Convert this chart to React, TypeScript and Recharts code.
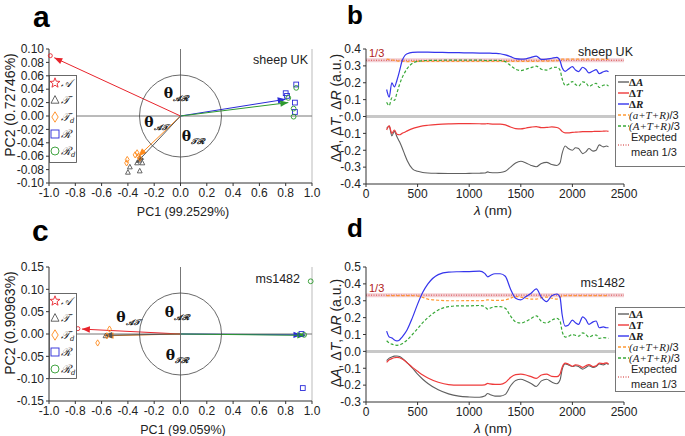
import React from 'react'
import {
  ScatterChart, Scatter, LineChart, Line, XAxis, YAxis, ReferenceLine, ReferenceDot, Legend,
} from 'recharts'

// ---------- PCA panels (a, c) ----------
const pc1Ticks = [-1, -0.8, -0.6, -0.4, -0.2, 0, 0.2, 0.4, 0.6, 0.8, 1]
const sheepPc2Ticks = [-0.1, -0.08, -0.06, -0.04, -0.02, 0, 0.02, 0.04, 0.06, 0.08, 0.1]
const msPc2Ticks = [-0.15, -0.1, -0.05, 0, 0.05, 0.1, 0.15]

const sheepPtsA = [{ x: -0.99, y: 0.09 }]
const sheepPtsT = [
  { x: -0.4, y: -0.084 }, { x: -0.385, y: -0.076 }, { x: -0.31, y: -0.082 },
  { x: -0.33, y: -0.07 }, { x: -0.29, y: -0.07 }, { x: -0.315, y: -0.066 },
]
const sheepPtsTd = [
  { x: -0.41, y: -0.07 }, { x: -0.405, y: -0.065 }, { x: -0.345, y: -0.058 },
  { x: -0.32, y: -0.06 }, { x: -0.31, y: -0.063 }, { x: -0.33, y: -0.055 },
]
const sheepPtsR = [
  { x: 0.8, y: 0.034 }, { x: 0.81, y: 0.03 }, { x: 0.87, y: 0.02 }, { x: 0.88, y: 0.047 }, { x: 0.87, y: 0.006 },
]
const sheepPtsRd = [{ x: 0.88, y: 0.042 }, { x: 0.86, y: 0.011 }, { x: 0.86, y: -0.001 }, { x: 0.82, y: 0.027 }]
const sheepArrowA = { x: -0.96, y: 0.087 }
const sheepArrowTd = { x: -0.32, y: -0.06 }
const sheepArrowT = { x: -0.335, y: -0.07 }
const sheepArrowR = { x: 0.8, y: 0.025 }
const sheepArrowRd = { x: 0.82, y: 0.02 }

const msPtsA = [{ x: -0.78, y: 0.012 }]
const msPtsT = [{ x: -0.57, y: -0.004 }]
const msPtsTd = [{ x: -0.54, y: 0.011 }, { x: -0.63, y: -0.02 }, { x: -0.56, y: -0.004 }]
const msPtsR = [{ x: 0.93, y: -0.121 }, { x: 0.92, y: 0 }]
const msPtsRd = [{ x: 0.99, y: 0.118 }, { x: 0.94, y: -0.002 }]
const msArrowA = { x: -0.75, y: 0.011 }
const msArrowTd = { x: -0.57, y: -0.004 }
const msArrowT = { x: -0.58, y: -0.003 }
const msArrowR = { x: 0.92, y: -0.002 }
const msArrowRd = { x: 0.95, y: -0.003 }

// ---------- spectra panels (b, d) ----------
const lambdaTicks = [0, 500, 1000, 1500, 2000, 2500]
const sheepDeltaTicks = [-0.4, -0.3, -0.2, -0.1, 0, 0.1, 0.2, 0.3, 0.4]
const msDeltaTicks = [-0.3, -0.2, -0.1, 0, 0.1, 0.2, 0.3, 0.4, 0.5]

const wavelengths = [
  200, 225, 250, 275, 300, 325, 350, 375, 400, 450, 500, 550, 600, 700, 800, 900, 1000, 1100, 1150, 1180,
  1200, 1250, 1300, 1350, 1400, 1450, 1500, 1550, 1600, 1650, 1700, 1750, 1800, 1850, 1880, 1900, 1930, 1960, 2000, 2030,
  2060, 2100, 2130, 2160, 2200, 2230, 2260, 2300, 2330, 2350,
]

const sheepDA = [
  -0.07, -0.056, -0.115, -0.088, -0.12, -0.15, -0.185, -0.225, -0.262, -0.31, -0.325, -0.332, -0.335, -0.337, -0.338, -0.338, -0.337, -0.336, -0.335, -0.328,
  -0.332, -0.333, -0.332, -0.325, -0.3, -0.275, -0.265, -0.275, -0.29, -0.298, -0.278, -0.272, -0.285, -0.29, -0.275, -0.22, -0.175, -0.19, -0.2, -0.185,
  -0.19, -0.22, -0.21, -0.19, -0.205, -0.2, -0.168, -0.18, -0.175, -0.18,
]
const sheepDT = [
  -0.08, -0.056, -0.1, -0.08, -0.105, -0.108, -0.1, -0.093, -0.085, -0.072, -0.063, -0.056, -0.052, -0.047, -0.044, -0.042, -0.042, -0.043, -0.044, -0.042,
  -0.044, -0.045, -0.045, -0.05, -0.062, -0.072, -0.073, -0.068, -0.063, -0.06, -0.066, -0.065, -0.062, -0.065, -0.075, -0.088, -0.097, -0.097, -0.094, -0.093,
  -0.092, -0.09, -0.09, -0.09, -0.089, -0.088, -0.088, -0.087, -0.086, -0.088,
]
const sheepDR = [
  0.16, 0.115, 0.2, 0.175, 0.215, 0.27, 0.33, 0.36, 0.372, 0.38, 0.381, 0.381, 0.381, 0.38, 0.379, 0.378, 0.377, 0.376, 0.375, 0.376,
  0.375, 0.374, 0.372, 0.365, 0.355, 0.343, 0.34, 0.342, 0.35, 0.358, 0.338, 0.34, 0.345, 0.35, 0.33, 0.29, 0.268, 0.28, 0.295, 0.275,
  0.266, 0.292, 0.28, 0.258, 0.27, 0.278, 0.254, 0.265, 0.27, 0.265,
]
const sheepMeanLower = [
  0.34, 0.338, 0.335, 0.333, 0.33, 0.328, 0.327, 0.326, 0.325, 0.326, 0.327, 0.327, 0.327, 0.327, 0.327, 0.327, 0.327, 0.327, 0.327, 0.327,
  0.327, 0.327, 0.327, 0.327, 0.327, 0.327, 0.327, 0.327, 0.327, 0.327, 0.328, 0.328, 0.329, 0.33, 0.335, 0.34, 0.34, 0.34, 0.34, 0.34,
  0.34, 0.34, 0.34, 0.34, 0.34, 0.34, 0.34, 0.339, 0.339, 0.338,
]
const sheepMeanUpper = [
  0.085, 0.065, 0.11, 0.095, 0.14, 0.19, 0.23, 0.26, 0.285, 0.315, 0.327, 0.33, 0.332, 0.333, 0.334, 0.334, 0.334, 0.334, 0.333, 0.33,
  0.333, 0.333, 0.332, 0.325, 0.302, 0.28, 0.272, 0.28, 0.29, 0.298, 0.28, 0.275, 0.288, 0.292, 0.275, 0.225, 0.185, 0.19, 0.207, 0.19,
  0.18, 0.205, 0.2, 0.178, 0.19, 0.197, 0.172, 0.185, 0.188, 0.18,
]

const msDA = [
  -0.055, -0.04, -0.033, -0.028, -0.027, -0.03, -0.04, -0.053, -0.068, -0.1, -0.135, -0.165, -0.19, -0.228, -0.252, -0.265, -0.27, -0.272, -0.265, -0.25,
  -0.255, -0.265, -0.265, -0.255, -0.205, -0.172, -0.165, -0.175, -0.19, -0.208, -0.175, -0.165, -0.182, -0.192, -0.17, -0.11, -0.075, -0.08, -0.09, -0.085,
  -0.09, -0.105, -0.095, -0.085, -0.095, -0.09, -0.075, -0.08, -0.072, -0.078,
]
const msDT = [
  -0.065, -0.05, -0.043, -0.038, -0.036, -0.038, -0.045, -0.055, -0.068, -0.095, -0.118, -0.14, -0.158, -0.183, -0.197, -0.2, -0.2, -0.2, -0.198, -0.19,
  -0.193, -0.196, -0.196, -0.185, -0.155, -0.138, -0.135, -0.14, -0.15, -0.16, -0.14, -0.135, -0.148, -0.15, -0.135, -0.095, -0.07, -0.075, -0.088, -0.08,
  -0.082, -0.095, -0.085, -0.078, -0.09, -0.085, -0.07, -0.072, -0.068, -0.075,
]
const msDR = [
  0.12, 0.085, 0.08, 0.068, 0.062, 0.068, 0.085, 0.105, 0.13, 0.2, 0.28, 0.35, 0.4, 0.455, 0.47, 0.472, 0.473, 0.475, 0.462, 0.442,
  0.448, 0.46, 0.46, 0.445, 0.37, 0.315, 0.305, 0.325, 0.345, 0.37, 0.32, 0.295, 0.33, 0.34, 0.32, 0.22, 0.15, 0.155, 0.185, 0.17,
  0.16, 0.205, 0.19, 0.16, 0.175, 0.18, 0.14, 0.145, 0.14, 0.14,
]
const msMeanLower = [
  0.33, 0.33, 0.33, 0.33, 0.33, 0.33, 0.33, 0.33, 0.33, 0.33, 0.328, 0.32, 0.31, 0.303, 0.3, 0.3, 0.301, 0.3, 0.302, 0.305,
  0.304, 0.302, 0.302, 0.305, 0.315, 0.325, 0.322, 0.315, 0.31, 0.31, 0.318, 0.322, 0.315, 0.31, 0.318, 0.33, 0.33, 0.33, 0.33, 0.33,
  0.33, 0.33, 0.33, 0.33, 0.33, 0.33, 0.33, 0.33, 0.33, 0.33,
]
const msMeanUpper = [
  0.063, 0.05, 0.043, 0.038, 0.036, 0.038, 0.045, 0.055, 0.068, 0.1, 0.135, 0.17, 0.2, 0.245, 0.265, 0.27, 0.27, 0.272, 0.265, 0.25,
  0.255, 0.265, 0.265, 0.255, 0.21, 0.175, 0.168, 0.178, 0.195, 0.21, 0.178, 0.168, 0.185, 0.195, 0.18, 0.12, 0.085, 0.088, 0.1, 0.095,
  0.09, 0.11, 0.1, 0.085, 0.095, 0.097, 0.077, 0.082, 0.08, 0.077,
]

const C = { A: '#e8242c', T: '#555555', Td: '#ff8a1c', R: '#2a2ad8', Rd: '#2e9a2e' }
const LC = { dA: '#606060', dT: '#ee3a3a', dR: '#3535ec', lo: '#ff9933', up: '#38a838', exp: '#d02828' }
const SANS = 'Liberation Sans, Arial, sans-serif'
const SERIF = 'DejaVu Serif, Liberation Serif, serif'
const NSERIF = 'Liberation Serif, serif'

type Kind = 'star' | 'triangle' | 'diamond' | 'square' | 'circle'

function Mark({ cx, cy, kind, color, s = 2.4 }: { cx?: number; cy?: number; kind: Kind; color: string; s?: number }) {
  if (cx == null || cy == null) return null
  const st = { fill: 'none', stroke: color, strokeWidth: 0.9 }
  if (kind === 'circle') return <circle cx={cx} cy={cy} r={s} {...st} />
  if (kind === 'square') return <rect x={cx - s} y={cy - s} width={2 * s} height={2 * s} {...st} />
  if (kind === 'triangle')
    return <polygon points={`${cx},${cy - s * 1.1} ${cx - s},${cy + s * 0.8} ${cx + s},${cy + s * 0.8}`} {...st} />
  if (kind === 'diamond')
    return <polygon points={`${cx},${cy - s * 1.3} ${cx + s * 0.8},${cy} ${cx},${cy + s * 1.3} ${cx - s * 0.8},${cy}`} {...st} />
  const pts: string[] = []
  for (let i = 0; i < 10; i++) {
    const r = i % 2 === 0 ? s * 1.3 : s * 0.55
    const a = -Math.PI / 2 + (i * Math.PI) / 5
    pts.push(`${cx + r * Math.cos(a)},${cy + r * Math.sin(a)}`)
  }
  return <polygon points={pts.join(' ')} {...st} />
}

const arrowShape = (color: string, head = 8) => (p: any) => {
  const { x1, y1, x2, y2 } = p
  if (x1 == null) return null
  const dx = x2 - x1
  const dy = y2 - y1
  const len = Math.hypot(dx, dy) || 1
  const ux = dx / len
  const uy = dy / len
  const bx = x2 - ux * head
  const by = y2 - uy * head
  const w = head * 0.4
  return (
    <g>
      <line x1={x1} y1={y1} x2={x2} y2={y2} stroke={color} strokeWidth={1} />
      <polygon points={`${x2},${y2} ${bx - uy * w},${by + ux * w} ${bx + uy * w},${by - ux * w}`} fill={color} />
    </g>
  )
}

function Txt({ x, y, children, size = 12, rot = false, anchor = 'center', style = {} }: any) {
  const tx = anchor === 'center' ? '-50%' : anchor === 'right' ? '-100%' : '0'
  return (
    <div
      style={{
        position: 'absolute', left: x, top: y, whiteSpace: 'nowrap', fontSize: size, lineHeight: 1,
        transform: `translate(${tx},-50%)${rot ? ' rotate(-90deg)' : ''}`, transformOrigin: rot ? '50% 50%' : undefined,
        ...style,
      }}
    >
      {children}
    </div>
  )
}

// panel letter, placed by the top of its line box
function Tag({ x, top, size, children }: any) {
  return (
    <div style={{ position: 'absolute', left: x, top, fontSize: size, lineHeight: 1.15, fontWeight: 'bold', fontFamily: SANS, color: '#000' }}>
      {children}
    </div>
  )
}

const scriptA = '\u{1D49C}'
const scriptT = '\u{1D4AF}'
const scriptR = '\u211B'

const legendItems: { kind: Kind; color: string; label: React.ReactNode }[] = [
  { kind: 'star', color: C.A, label: scriptA },
  { kind: 'triangle', color: C.T, label: scriptT },
  { kind: 'diamond', color: C.Td, label: <>{scriptT}<tspan fontSize={7} dy={1.5}>d</tspan></> },
  { kind: 'square', color: C.R, label: scriptR },
  { kind: 'circle', color: C.Rd, label: <>{scriptR}<tspan fontSize={7} dy={1.5}>d</tspan></> },
]

const pcaLegend = (h: number) => () => (
  <svg width={29} height={h} style={{ display: 'block' }}>
    <rect x={0.5} y={0.5} width={27} height={h - 1} fill="#fff" stroke="#444" strokeWidth={0.8} />
    {legendItems.map((it, i) => (
      <g key={i}>
        <Mark cx={6} cy={8 + i * 17} kind={it.kind} color={it.color} s={4} />
        <text x={12} y={12 + i * 17} fontSize={11.5} fontStyle="italic" fontFamily={SERIF} fill="#222">
          {it.label}
        </text>
      </g>
    ))}
  </svg>
)

function Theta({ x, y, sub }: { x: number; y: number; sub: string }) {
  return (
    <Txt x={x} y={y} size={14} style={{ fontFamily: SERIF, fontWeight: 'bold', color: '#111' }}>
      θ<span style={{ fontSize: 8, fontStyle: 'italic', position: 'relative', top: 3 }}>{sub}</span>
    </Txt>
  )
}

type PcaProps = {
  top: number
  yDomain: [number, number]
  yTicks: number[]
  pts: { A: any[]; T: any[]; Td: any[]; R: any[]; Rd: any[] }
  arrows: { A: any; T: any; Td: any; R: any; Rd: any }
  legendTop: number
  legendH: number
}

function PcaChart({ top, yDomain, yTicks, pts, arrows, legendTop, legendH }: PcaProps) {
  const tick = { fontSize: 12, fill: '#222', fontFamily: SANS }
  const seg = (a: any) => [{ x: 0, y: 0 }, { x: a.x, y: a.y }] as any
  return (
    <div style={{ position: 'absolute', left: 0, top, width: 340, height: 218 }}>
      <ScatterChart width={340} height={218} margin={{ top: 49, right: 28, bottom: 10, left: 0 }}>
        <XAxis
          dataKey="x" type="number" domain={[-1, 1]} ticks={pc1Ticks} tick={tick} tickSize={3}
          tickFormatter={(v: number) => v.toFixed(1)} height={25} stroke="#333" interval={0}
        />
        <YAxis
          dataKey="y" type="number" domain={yDomain} ticks={yTicks} tick={tick} tickSize={3}
          tickFormatter={(v: number) => v.toFixed(2)} width={49} stroke="#333" interval={0}
        />
        <ReferenceLine x={1} stroke="#bbb" />
        <ReferenceLine x={0} stroke="#777" />
        <ReferenceLine y={0} stroke="#777" />
        <ReferenceDot x={0} y={0} r={41} fill="none" stroke="#444" strokeWidth={0.8} />
        <ReferenceLine segment={seg(arrows.A)} shape={arrowShape(C.A)} />
        <ReferenceLine segment={seg(arrows.Td)} shape={arrowShape(C.Td)} />
        <ReferenceLine segment={seg(arrows.T)} shape={arrowShape(C.T)} />
        <ReferenceLine segment={seg(arrows.R)} shape={arrowShape(C.R)} />
        <ReferenceLine segment={seg(arrows.Rd)} shape={arrowShape(C.Rd)} />
        <Scatter name="A" data={pts.A} isAnimationActive={false} shape={(p: any) => <Mark {...p} kind="circle" color={C.A} s={2} />} />
        <Scatter name="T" data={pts.T} isAnimationActive={false} shape={(p: any) => <Mark {...p} kind="triangle" color={C.T} />} />
        <Scatter name="Td" data={pts.Td} isAnimationActive={false} shape={(p: any) => <Mark {...p} kind="diamond" color={C.Td} />} />
        <Scatter name="R" data={pts.R} isAnimationActive={false} shape={(p: any) => <Mark {...p} kind="square" color={C.R} />} />
        <Scatter name="Rd" data={pts.Rd} isAnimationActive={false} shape={(p: any) => <Mark {...p} kind="circle" color={C.Rd} />} />
        <Legend
          layout="vertical" align="center" verticalAlign="middle" content={pcaLegend(legendH)}
          wrapperStyle={{ left: 49, top: legendTop, width: 29, height: legendH }}
        />
      </ScatterChart>
    </div>
  )
}

const specLegendRows = [
  { key: 'dA', dash: undefined, label: <><tspan fontWeight="bold" fontFamily={NSERIF}>Δ</tspan><tspan fontStyle="italic" fontWeight="bold" fontFamily={NSERIF}>A</tspan></> },
  { key: 'dT', dash: undefined, label: <><tspan fontWeight="bold" fontFamily={NSERIF}>Δ</tspan><tspan fontStyle="italic" fontWeight="bold" fontFamily={NSERIF}>T</tspan></> },
  { key: 'dR', dash: undefined, label: <><tspan fontWeight="bold" fontFamily={NSERIF}>Δ</tspan><tspan fontStyle="italic" fontWeight="bold" fontFamily={NSERIF}>R</tspan></> },
  { key: 'lo', dash: '3 2', label: <><tspan fontFamily={NSERIF} fontStyle="italic">(a+T+R)</tspan>/3</> },
  { key: 'up', dash: '3 2', label: <><tspan fontFamily={NSERIF} fontStyle="italic">(A+T+R)</tspan>/3</> },
]

const specLegend = (h: number) => () => (
  <svg width={80} height={h} style={{ display: 'block' }}>
    <rect x={0.5} y={0.5} width={85} height={h - 1} fill="#fff" stroke="#555" strokeWidth={0.8} />
    {specLegendRows.map((r, i) => (
      <g key={r.key}>
        <line x1={3} x2={14} y1={7 + i * 11} y2={7 + i * 11} stroke={(LC as any)[r.key]} strokeWidth={1.4} strokeDasharray={r.dash} />
        <text x={14} y={11 + i * 11} fontSize={11} fontFamily={SANS} fill="#222">{r.label}</text>
      </g>
    ))}
    <line x1={3} x2={14} y1={70} y2={70} stroke={LC.exp} strokeWidth={1} strokeDasharray="1 1.5" />
    <text x={16} y={66} fontSize={11} fontFamily={SANS} fill="#222">Expected</text>
    <text x={16} y={81} fontSize={11} fontFamily={SANS} fill="#222">mean 1/3</text>
  </svg>
)

type SpecProps = {
  top: number
  yDomain: [number, number]
  yTicks: number[]
  dA: number[]
  dT: number[]
  dR: number[]
  lo: number[]
  up: number[]
  legendTop: number
  legendH: number
}

function SpecChart({ top, yDomain, yTicks, dA, dT, dR, lo, up, legendTop, legendH }: SpecProps) {
  const rows = wavelengths.map((w, i) => ({ w, dA: dA[i], dT: dT[i], dR: dR[i], lo: lo[i], up: up[i] }))
  const tick = { fontSize: 12, fill: '#222', fontFamily: SANS }
  return (
    <div style={{ position: 'absolute', left: 320, top, width: 365, height: 218 }}>
      <LineChart width={365} height={218} data={rows} margin={{ top: 49, right: 61, bottom: 9, left: 0 }}>
        <XAxis dataKey="w" type="number" domain={[0, 2500]} ticks={lambdaTicks} tick={tick} tickSize={3} height={25} stroke="#333" interval={0} />
        <YAxis
          type="number" domain={yDomain} ticks={yTicks} tick={tick} tickSize={3} width={46} stroke="#333" interval={0}
          tickFormatter={(v: number) => v.toFixed(1)}
        />
        <ReferenceLine y={0} stroke="#c8c8c8" strokeWidth={3} />
        <ReferenceLine
          y={1 / 3} stroke="#f3cfd3" strokeWidth={4}
          label={{ value: '1/3', position: 'insideBottomLeft', fill: '#b02020', fontSize: 11, fontFamily: SANS, offset: 3 }}
        />
        <ReferenceLine y={1 / 3} stroke={LC.exp} strokeDasharray="1 1.5" strokeWidth={0.8} />
        <Line dataKey="lo" type="monotone" stroke={LC.lo} strokeDasharray="3 2" strokeWidth={1.2} dot={false} isAnimationActive={false} />
        <Line dataKey="up" type="monotone" stroke={LC.up} strokeDasharray="3 2" strokeWidth={1.2} dot={false} isAnimationActive={false} />
        <Line dataKey="dA" type="monotone" stroke={LC.dA} strokeWidth={1.1} dot={false} isAnimationActive={false} />
        <Line dataKey="dT" type="monotone" stroke={LC.dT} strokeWidth={1.2} dot={false} isAnimationActive={false} />
        <Line dataKey="dR" type="monotone" stroke={LC.dR} strokeWidth={1.2} dot={false} isAnimationActive={false} />
        <Legend
          layout="vertical" align="center" verticalAlign="middle" content={specLegend(legendH)}
          wrapperStyle={{ left: 295, top: legendTop, width: 80, height: legendH }}
        />
      </LineChart>
    </div>
  )
}

const deltaLabel = (
  <>
    Δ<i>A</i>, Δ<i>T</i>, Δ<i>R</i> (a.u.)
  </>
)

export default function App() {
  return (
    <div
      style={{
        position: 'absolute', left: 0, top: 0, width: 685, height: 436, background: '#fff',
        overflow: 'hidden', fontFamily: SANS, color: '#222',
      }}
    >
      <PcaChart
        top={0} yDomain={[-0.1, 0.1]} yTicks={sheepPc2Ticks}
        pts={{ A: sheepPtsA, T: sheepPtsT, Td: sheepPtsTd, R: sheepPtsR, Rd: sheepPtsRd }}
        arrows={{ A: sheepArrowA, T: sheepArrowT, Td: sheepArrowTd, R: sheepArrowR, Rd: sheepArrowRd }}
        legendTop={75} legendH={88}
      />
      <PcaChart
        top={218} yDomain={[-0.15, 0.15]} yTicks={msPc2Ticks}
        pts={{ A: msPtsA, T: msPtsT, Td: msPtsTd, R: msPtsR, Rd: msPtsRd }}
        arrows={{ A: msArrowA, T: msArrowT, Td: msArrowTd, R: msArrowR, Rd: msArrowRd }}
        legendTop={75} legendH={86}
      />
      <SpecChart
        top={0} yDomain={[-0.4, 0.4]} yTicks={sheepDeltaTicks}
        dA={sheepDA} dT={sheepDT} dR={sheepDR} lo={sheepMeanLower} up={sheepMeanUpper}
        legendTop={75} legendH={92}
      />
      <SpecChart
        top={218} yDomain={[-0.3, 0.5]} yTicks={msDeltaTicks}
        dA={msDA} dT={msDT} dR={msDR} lo={msMeanLower} up={msMeanUpper}
        legendTop={89} legendH={85}
      />

      {/* panel tags */}
      <Tag x={33} top={0} size={30}>a</Tag>
      <Tag x={347} top={1} size={26}>b</Tag>
      <Tag x={32} top={214} size={30}>c</Tag>
      <Tag x={347} top={214} size={26}>d</Tag>

      {/* axis titles */}
      <Txt x={10} y={105} rot size={14}>PC2 (0.72746%)</Txt>
      <Txt x={183} y={212} size={12.5}>PC1 (99.2529%)</Txt>
      <Txt x={10} y={323} rot size={14}>PC2 (0.90963%)</Txt>
      <Txt x={183} y={430} size={12.5}>PC1 (99.059%)</Txt>
      <Txt x={336} y={108} rot size={14}>{deltaLabel}</Txt>
      <Txt x={336} y={333} rot size={14}>{deltaLabel}</Txt>
      <Txt x={493} y={211} size={13.5}><i>λ</i> (nm)</Txt>
      <Txt x={493} y={429} size={13.5}><i>λ</i> (nm)</Txt>

      {/* sample names */}
      <Txt x={308} y={60} anchor="right" size={12.5}>sheep UK</Txt>
      <Txt x={300} y={279} anchor="right" size={12.5}>ms1482</Txt>
      <Txt x={633} y={52} anchor="right" size={12.5}>sheep UK</Txt>
      <Txt x={625} y={283} anchor="right" size={12.5}>ms1482</Txt>

      {/* angle labels */}
      <Theta x={176} y={93} sub={scriptA + scriptR} />
      <Theta x={156} y={122} sub={scriptA + scriptT} />
      <Theta x={193} y={136} sub={scriptT + scriptR} />
      <Theta x={177} y={312} sub={scriptA + scriptR} />
      <Theta x={128} y={317} sub={scriptA + scriptT} />
      <Theta x={177} y={355} sub={scriptT + scriptR} />
    </div>
  )
}
